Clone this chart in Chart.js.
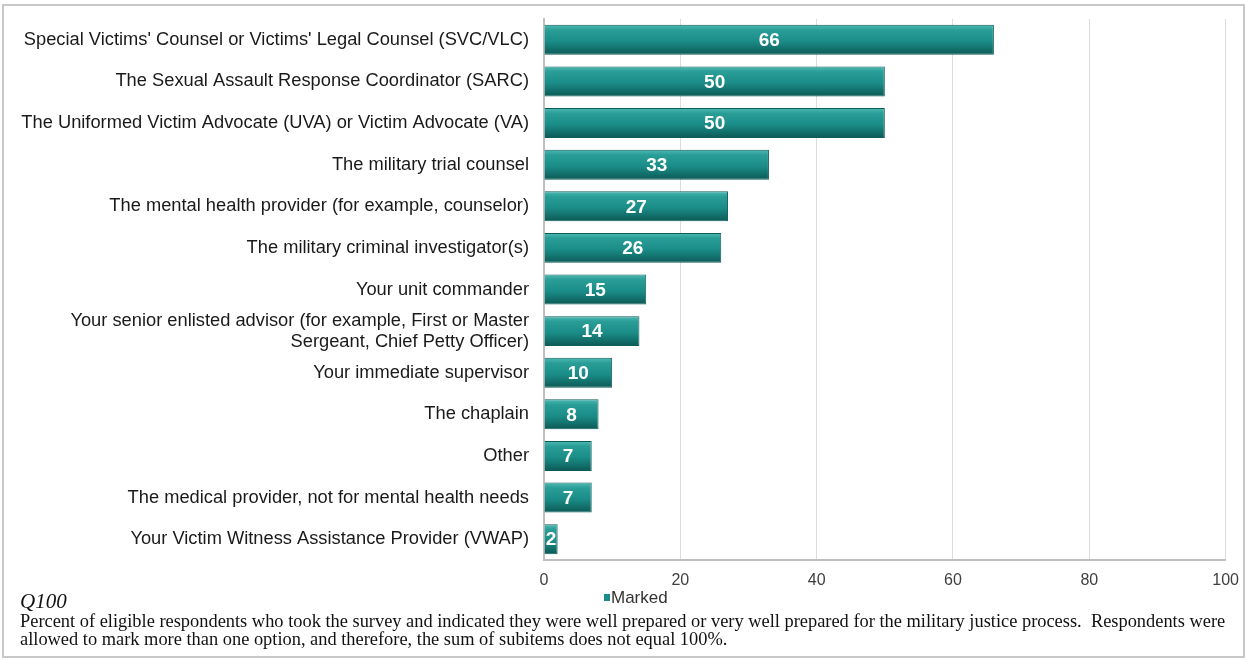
<!DOCTYPE html>
<html>
<head>
<meta charset="utf-8">
<script src="https://cdn.jsdelivr.net/npm/chart.js@4/dist/chart.umd.min.js"></script>
<style>
  html, body { margin: 0; padding: 0; background: #ffffff; }
  #wrap { width: 1250px; height: 660px; position: relative; }
</style>
</head>
<body>
<div id="wrap"><canvas id="myChart" width="1250" height="660"></canvas></div>
<script>
const categories = [
    "Special Victims' Counsel or Victims' Legal Counsel (SVC/VLC)",
    'The Sexual Assault Response Coordinator (SARC)',
    'The Uniformed Victim Advocate (UVA) or Victim Advocate (VA)',
    'The military trial counsel',
    'The mental health provider (for example, counselor)',
    'The military criminal investigator(s)',
    'Your unit commander',
    ['Your senior enlisted advisor (for example, First or Master', 'Sergeant, Chief Petty Officer)'],
    'Your immediate supervisor',
    'The chaplain',
    'Other',
    'The medical provider, not for mental health needs',
    'Your Victim Witness Assistance Provider (VWAP)'
];
const markedValues = [66, 50, 50, 33, 27, 26, 15, 14, 10, 8, 7, 7, 2];
const xTicks = [0, 20, 40, 60, 80, 100];
const seriesName = 'Marked';
const questionId = 'Q100';
const noteLines = [
    'Percent of eligible respondents who took the survey and indicated they were well prepared or very well prepared for the military justice process.  Respondents were',
    'allowed to mark more than one option, and therefore, the sum of subitems does not equal 100%.'
];

document.addEventListener('DOMContentLoaded', function () {
    const ctx = document.getElementById('myChart').getContext('2d');
    const cfg = {
        barFill: '#1b8d88',
        barTop: '#4fbab4',
        barBottom: '#0c5955',
        barEdge: '#0e5c58',
        gridColor: '#dcdcdc',
        axisColor: '#bfbfbf',
        labelColor: '#1a1a1a',
        tickColor: '#404040',
        sans: 'Arial, "Liberation Sans", sans-serif',
        serif: '"Times New Roman", "Liberation Serif", serif'
    };

    // vertical shading for each bar, built from the category scale
    function barGradient(context) {
        const chart = context.chart;
        const yScale = chart.scales.y;
        if (!yScale || context.dataIndex === undefined) return cfg.barFill;
        const cy = yScale.getPixelForValue(context.dataIndex);
        if (!isFinite(cy)) return cfg.barFill;
        const half = 15;
        const g = chart.ctx.createLinearGradient(0, cy - half, 0, cy + half);
        g.addColorStop(0, cfg.barTop);
        g.addColorStop(0.18, '#2a9d97');
        g.addColorStop(0.55, cfg.barFill);
        g.addColorStop(1, cfg.barBottom);
        return g;
    }

    // white value labels centered in each bar
    const valueLabels = {
        id: 'valueLabels',
        afterDatasetsDraw(chart) {
            const c = chart.ctx;
            const meta = chart.getDatasetMeta(0);
            c.save();
            c.font = 'bold 19px ' + cfg.sans;
            c.fillStyle = '#ffffff';
            c.textAlign = 'center';
            c.textBaseline = 'middle';
            meta.data.forEach(function (bar, i) {
                const x = (bar.x + bar.base) / 2;
                c.fillText(String(markedValues[i]), x, bar.y + 1);
            });
            c.restore();
        }
    };

    // frame, legend and footnote
    const extras = {
        id: 'extras',
        afterDraw(chart) {
            const c = chart.ctx;
            c.save();
            c.strokeStyle = '#c8c8c8';
            c.lineWidth = 2;
            c.strokeRect(3, 5, 1241, 652);

            c.fillStyle = cfg.barFill;
            c.fillRect(604, 594, 6, 7);
            c.fillStyle = '#333333';
            c.font = '17px ' + cfg.sans;
            c.textAlign = 'left';
            c.textBaseline = 'middle';
            c.fillText(seriesName, 611, 598);

            c.fillStyle = '#111111';
            c.textBaseline = 'alphabetic';
            c.font = 'italic 21px ' + cfg.serif;
            c.fillText(questionId, 20, 608);
            c.font = '18.4px ' + cfg.serif;
            c.fillText(noteLines[0], 20, 627);
            c.fillText(noteLines[1], 20, 645);
            c.restore();
        }
    };

    new Chart(ctx, {
        type: 'bar',
        data: {
            labels: categories,
            datasets: [{
                label: seriesName,
                data: markedValues,
                backgroundColor: barGradient,
                borderColor: cfg.barEdge,
                borderWidth: 1,
                borderSkipped: 'left',
                barPercentage: 0.8,
                categoryPercentage: 0.9
            }]
        },
        options: {
            indexAxis: 'y',
            responsive: false,
            animation: false,
            layout: { padding: { top: 19, right: 21, left: 0, bottom: 0 } },
            scales: {
                x: {
                    min: 0,
                    max: 100,
                    afterBuildTicks: function (scale) {
                        scale.ticks = xTicks.map(function (v) { return { value: v }; });
                    },
                    afterFit: function (scale) { scale.height = 100; },
                    grid: {
                        color: cfg.gridColor,
                        drawTicks: false
                    },
                    border: { color: cfg.axisColor, width: 2 },
                    ticks: {
                        color: cfg.tickColor,
                        padding: 11,
                        font: { family: cfg.sans, size: 16 }
                    }
                },
                y: {
                    afterFit: function (scale) {
                        scale.width = 544;
                        scale.paddingTop = 0;
                        scale.paddingBottom = 0;
                    },
                    grid: { display: false, drawTicks: false },
                    border: { color: cfg.axisColor, width: 2 },
                    ticks: {
                        autoSkip: false,
                        color: cfg.labelColor,
                        padding: 15,
                        font: { family: cfg.sans, size: 18.3, lineHeight: 1.15 }
                    }
                }
            },
            plugins: {
                legend: { display: false },
                title: { display: false },
                tooltip: { enabled: false }
            }
        },
        plugins: [valueLabels, extras]
    });
});
</script>
</body>
</html>
